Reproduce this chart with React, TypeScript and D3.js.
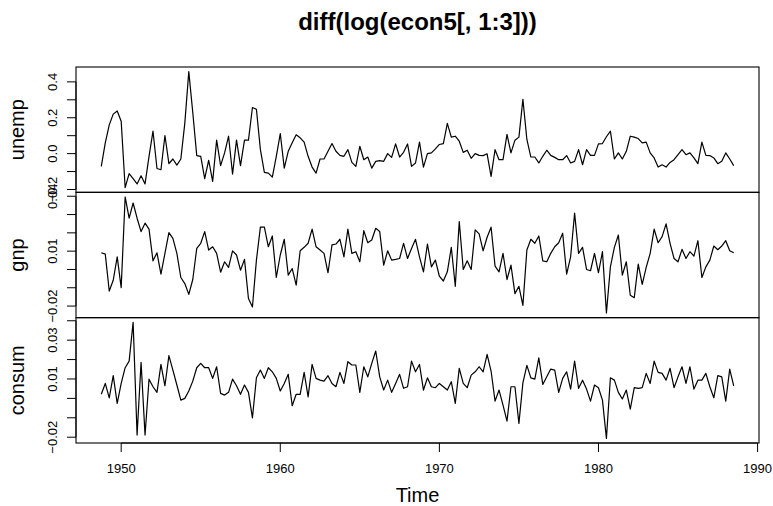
import React from "react";
import * as d3 from "d3";

// quarterly series, diff of log, starting 1948 Q4
const startYear = 1948.75;
const frequency = 4;

const unemp = [
  -0.071, 0.06, 0.16, 0.22, 0.238, 0.18, -0.19, -0.112, -0.14, -0.169,
  -0.124, -0.169, -0.015, 0.125, -0.083, -0.09, 0.101, -0.056, -0.03, -0.064,
  -0.03, 0.17, 0.457, 0.229, -0.011, -0.015, -0.139, -0.037, -0.155, 0.075,
  -0.067, 0.004, 0.097, -0.114, 0.075, -0.067, 0.075, 0.075, 0.257, 0.247,
  0.022, -0.105, -0.109, -0.131, -0.015, 0.112, -0.081, 0.013, 0.06, 0.105,
  0.088, 0.064, -0.015, -0.075, -0.109, -0.03, -0.03, 0.013, 0.056, 0.013,
  -0.01, -0.015, 0.022, -0.049, -0.071, 0.041, -0.034, -0.019, -0.081, -0.043,
  -0.039, -0.043, 0.0, -0.021, 0.054, -0.019, 0.007, 0.054, -0.071, -0.052,
  0.064, -0.075, 0.0, 0.004, 0.026, 0.051, 0.056, 0.169, 0.092, 0.097,
  0.069, 0.007, 0.019, -0.026, 0.0, -0.01, -0.011, -0.001, -0.127, 0.022,
  -0.034, -0.034, 0.107, 0.004, 0.075, 0.092, 0.303, 0.079, -0.019, -0.019,
  -0.052, -0.015, 0.019, -0.01, -0.021, -0.034, -0.034, -0.011, -0.052, -0.043,
  0.022, -0.062, 0.022, -0.01, -0.01, 0.054, 0.056, 0.094, 0.125, -0.03,
  0.004, -0.03, 0.013, 0.097, 0.092, 0.084, 0.06, 0.064, 0.004, -0.024,
  -0.075, -0.062, -0.075, -0.049, -0.034, -0.006, 0.022, -0.006, 0.004, -0.024,
  -0.056, 0.064, -0.01, -0.011, -0.024, -0.056, -0.043, 0.004, -0.03, -0.067,
];

const gnp = [
  0.0091, 0.0084, -0.0118, -0.0059, 0.0069, -0.0099, 0.0396, 0.028, 0.0363, 0.028,
  0.0207, 0.0253, 0.022, 0.0047, 0.0091, -0.0026, 0.0088, 0.0201, 0.017, 0.0088,
  -0.0044, -0.0077, -0.0136, -0.0055, 0.0115, 0.0143, 0.0207, 0.0106, 0.0124, 0.0088,
  -0.0015, 0.0042, 0.0011, 0.0102, 0.0079, -0.0004, 0.0055, -0.0159, -0.0205, 0.0051,
  0.0231, 0.0231, 0.0124, 0.0183, -0.0044, 0.0079, 0.0165, -0.0031, 0.0005, -0.0086,
  0.0102, 0.0121, 0.0143, 0.022, 0.0124, 0.0106, 0.0088, -0.0018, 0.0134, 0.0139,
  0.0165, 0.0069, 0.022, 0.0088, 0.0097, 0.0042, 0.0212, 0.0146, 0.0161, 0.0225,
  0.0207, 0.0024, 0.0102, 0.0051, 0.0055, 0.006, 0.0143, 0.006, 0.0115, 0.0165,
  0.0069, -0.0013, 0.0139, 0.0014, 0.0051, -0.0037, -0.0063, -0.0013, 0.0121, -0.0092,
  0.0262, 0.0, 0.0047, 0.0, 0.0216, 0.0194, 0.0102, 0.0176, 0.0231, 0.0018,
  -0.0013, 0.0088, -0.0055, 0.0024, -0.0132, -0.0092, -0.0196, 0.0106, 0.0165, 0.0143,
  0.0183, 0.0047, 0.0042, 0.0088, 0.0124, 0.0146, 0.0198, -0.0026, 0.0069, 0.0308,
  0.0088, 0.0121, 0.0, -0.0007, 0.0088, -0.0018, 0.0097, -0.0238, 0.0014, 0.0121,
  0.0188, -0.0031, 0.0042, -0.0141, -0.0154, 0.0029, -0.0081, 0.0011, 0.0088, 0.022,
  0.0146, 0.0179, 0.0249, 0.0143, 0.006, 0.0042, 0.011, 0.006, 0.0097, 0.0073,
  0.0157, -0.0044, 0.0014, 0.0051, 0.0128, 0.0108, 0.0128, 0.0157, 0.0102, 0.0091,
];

const consum = [
  0.0021, 0.0077, 0.0003, 0.0117, -0.0026, 0.0077, 0.0158, 0.0192, 0.0392, -0.0189,
  0.0186, -0.0189, 0.0099, 0.006, 0.0031, 0.0175, 0.0065, 0.022, 0.0146, 0.0069,
  -0.0009, 0.0, 0.0038, 0.0089, 0.0158, 0.018, 0.0158, 0.0158, 0.0103, 0.0163,
  0.0026, 0.0017, 0.0031, 0.0099, 0.0065, 0.0021, 0.0069, 0.0031, -0.01, 0.0106,
  0.0146, 0.0103, 0.0158, 0.0137, 0.0103, 0.0038, 0.0077, 0.0124, -0.0038, 0.0021,
  0.0021, 0.0134, 0.0008, 0.0175, 0.0103, 0.0094, 0.0089, 0.0117, 0.0077, 0.006,
  0.0134, 0.0077, 0.0189, 0.0172, 0.0172, 0.0031, 0.0163, 0.0111, 0.018, 0.0244,
  0.0111, 0.0043, 0.0094, 0.0031, 0.0077, 0.0124, 0.0052, 0.006, 0.0192, 0.0137,
  0.0175, 0.0043, 0.0106, 0.006, 0.0055, 0.0077, 0.006, 0.0043, 0.0086, -0.0026,
  0.0155, 0.0077, 0.0055, 0.012, 0.0137, 0.0163, 0.0137, 0.0227, 0.0141, -0.0014,
  0.0043, -0.0035, -0.0117, 0.006, 0.006, -0.0129, 0.008, 0.017, 0.0106, 0.0099,
  0.0209, 0.0072, 0.0111, 0.0151, 0.0146, 0.0031, 0.0103, 0.0137, 0.0048, 0.0192,
  0.0052, 0.0094, 0.0048, -0.0014, 0.0069, 0.0055, -0.0009, -0.0206, 0.0106, 0.0094,
  0.0031, -0.0003, 0.0043, -0.0055, 0.0055, 0.0052, 0.0055, 0.0129, 0.0077, 0.0192,
  0.0134, 0.0129, 0.0094, 0.0155, 0.0055, 0.0111, 0.0163, 0.0077, 0.0163, 0.0048,
  0.0094, 0.0094, 0.0129, 0.006, 0.0003, 0.0117, 0.0111, -0.0014, 0.0151, 0.0065,
];

const seriesNames = ["unemp", "gnp", "consum"];

// y ticks per panel, and the ones R kept a label on
const unempTicks = [-0.2, -0.1, 0, 0.1, 0.2, 0.3, 0.4];
const unempLabelled = [-0.2, 0, 0.2, 0.4];
const gnpTicks = [-0.02, -0.01, 0, 0.01, 0.02, 0.03, 0.04];
const gnpLabelled = [-0.02, 0.01, 0.04];
const consumTicks = [-0.02, -0.01, 0, 0.01, 0.02, 0.03, 0.04];
const consumLabelled = [-0.02, 0.01, 0.03];

const yearTicks = [1950, 1960, 1970, 1980, 1990];

const title = "diff(log(econ5[, 1:3]))";
const xTitle = "Time";

const W = 773;
const H = 506;
const left = 76;
const right = 759;
const top = 67;
const bottom = 443;
const font = "'Liberation Sans', Arial, Helvetica, sans-serif";

// R style range: data extent plus 4% on each side
const padded = (vals: number[]): [number, number] => {
  const [lo, hi] = d3.extent(vals) as [number, number];
  const p = (hi - lo) * 0.04;
  return [lo - p, hi + p];
};

export default function App() {
  const time = unemp.map((_, i) => startYear + i / frequency);
  const x = d3.scaleLinear().domain(padded(time)).range([left, right]);

  const panels = [
    { name: seriesNames[0], values: unemp, ticks: unempTicks, labelled: unempLabelled, fmt: d3.format(".1f") },
    { name: seriesNames[1], values: gnp, ticks: gnpTicks, labelled: gnpLabelled, fmt: d3.format(".2f") },
    { name: seriesNames[2], values: consum, ticks: consumTicks, labelled: consumLabelled, fmt: d3.format(".2f") },
  ];
  const ph = (bottom - top) / panels.length;

  return (
    <svg
      width={W}
      height={H}
      style={{ position: "absolute", left: 0, top: 0, background: "#fff" }}
      fontFamily={font}
    >
      <text x={(left + right) / 2} y={30} textAnchor="middle" fontSize={24} fontWeight="bold">
        {title}
      </text>

      {panels.map((p, k) => {
        const y0 = top + k * ph;
        const y1 = y0 + ph;
        const y = d3.scaleLinear().domain(padded(p.values)).range([y1, y0]);
        const line = d3
          .line<number>()
          .x((_, i) => x(time[i]))
          .y((d) => y(d));
        const visible = p.ticks.filter((t) => y(t) >= y0 - 0.5 && y(t) <= y1 + 0.5);
        return (
          <g key={p.name}>
            <path d={line(p.values) || ""} fill="none" stroke="#000" strokeWidth={1.2} strokeLinejoin="round" />
            <line x1={left} x2={left} y1={y(visible[0])} y2={y(visible[visible.length - 1])} stroke="#000" />
            {visible.map((t) => (
              <line key={t} x1={left - 9} x2={left} y1={y(t)} y2={y(t)} stroke="#000" />
            ))}
            {p.labelled.map((t) => (
              <text
                key={"l" + t}
                transform={`translate(57,${y(t)}) rotate(-90)`}
                textAnchor="middle"
                fontSize={13}
              >
                {p.fmt(t)}
              </text>
            ))}
            <text
              transform={`translate(23.5,${(y0 + y1) / 2}) rotate(-90)`}
              textAnchor="middle"
              fontSize={20}
            >
              {p.name}
            </text>
            <rect x={left} y={y0} width={right - left} height={ph} fill="none" stroke="#000" strokeWidth={1.1} />
          </g>
        );
      })}

      <line x1={x(yearTicks[0])} x2={x(yearTicks[yearTicks.length - 1])} y1={bottom} y2={bottom} stroke="#000" />
      {yearTicks.map((t) => (
        <g key={t}>
          <line x1={x(t)} x2={x(t)} y1={bottom} y2={bottom + 9} stroke="#000" />
          <text x={x(t)} y={473} textAnchor="middle" fontSize={13}>
            {t}
          </text>
        </g>
      ))}
      <text x={(left + right) / 2} y={502} textAnchor="middle" fontSize={20}>
        {xTitle}
      </text>
    </svg>
  );
}
